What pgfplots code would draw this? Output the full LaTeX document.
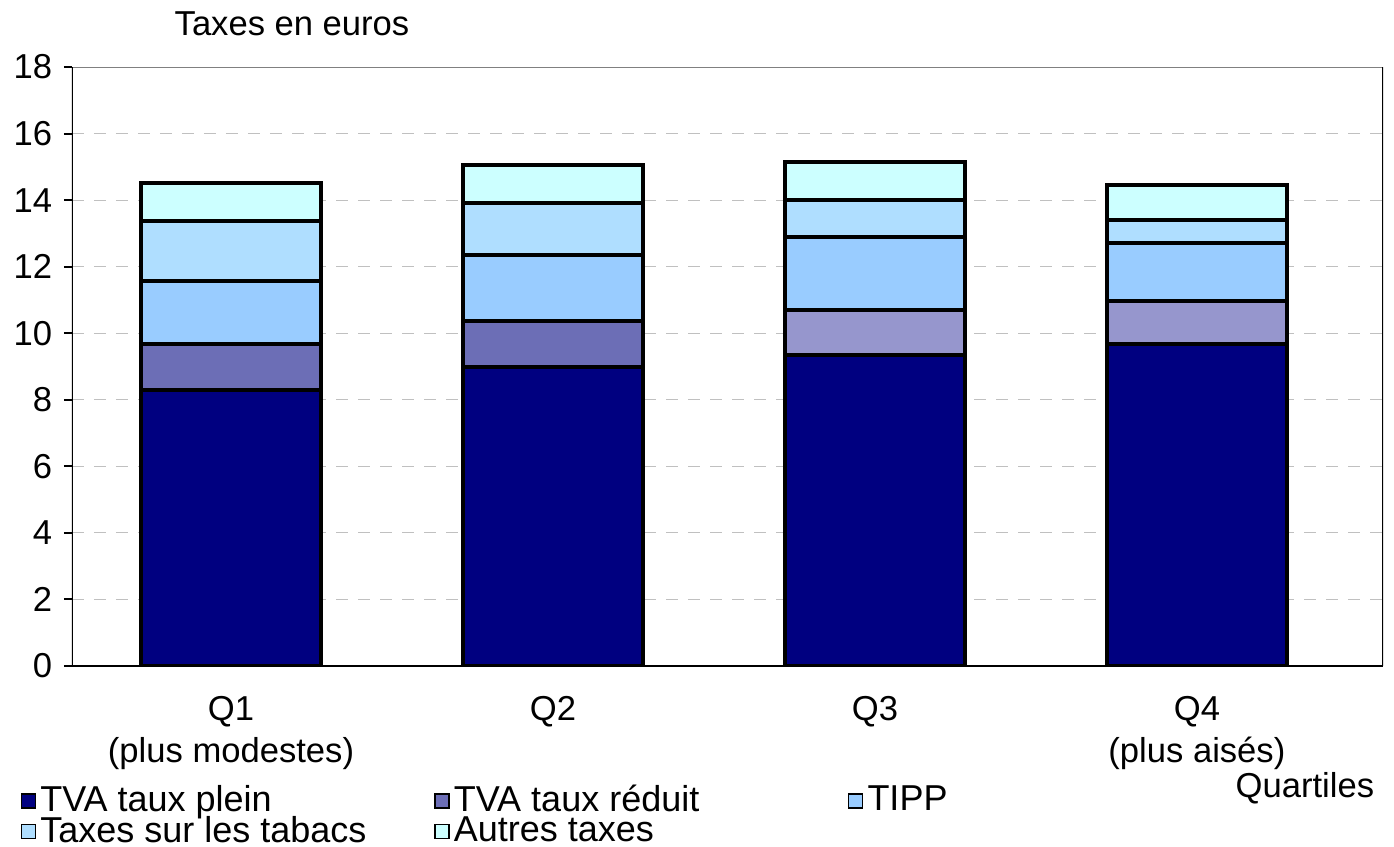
\documentclass[border=0pt]{standalone}
\usepackage{pgfplots}
\pgfplotsset{compat=1.18}
\usepackage{fontspec}
\setmainfont{Liberation Sans}
\definecolor{cplein}{RGB}{0,0,128}
\definecolor{credA}{RGB}{108,110,182}
\definecolor{credB}{RGB}{150,150,205}
\definecolor{ctipp}{RGB}{153,204,255}
\definecolor{ctab}{RGB}{175,222,255}
\definecolor{cautres}{RGB}{204,255,255}
\begin{document}
\fontsize{17.3}{20}\selectfont
\begin{tikzpicture}
\begin{axis}[
  scale only axis,
  width=655.5pt, height=299.5pt,
  xmin=-0.494, xmax=3.578,
  ymin=0, ymax=18,
  ytick={0,2,...,18},
  ytick pos=left,
  xtick={0,1,2,3},
  xticklabels={Q1\\(plus modestes), Q2, Q3, Q4\\(plus aisés)},
  xticklabel style={align=center, anchor=north, yshift=-5pt, font=\fontsize{17.3}{21}\selectfont},
  major x tick style={draw=none},
  tick align=outside,
  major tick length=4pt,
  y tick style={black, line width=1pt},
  yticklabel style={font=\fontsize{17.3}{20}\selectfont},
  /pgf/number format/assume math mode=true,
  ymajorgrids,
  grid style={dash pattern=on 6pt off 5pt, color={rgb,255:red,192;green,192;blue,192}, line width=0.5pt},
  axis line style={draw=none},
  ybar stacked,
  bar width=90pt,
  legend columns=3,
  legend style={draw=none, fill=none, at={(rel axis cs:-0.044,-0.185)}, anchor=north west,
    font=\fontsize{18}{19}\selectfont, row sep=-4.5pt, /tikz/every even column/.append style={column sep=5pt}},
  legend cell align=left,
  legend image code/.code={\draw[#1, line width=0.8pt] (0pt,-3.5pt) rectangle (7pt,3.5pt);},
]
\addplot[fill=cplein, draw=black, line width=2pt] coordinates {(0,8.29) (1,8.98) (2,9.34) (3,9.68)};
\addlegendentry{\makebox[190pt][l]{TVA taux plein}}
\addplot[fill=credA, draw=black, line width=2pt] coordinates {(0,1.39) (1,1.39) (2,0) (3,0)};
\addlegendentry{\makebox[190pt][l]{TVA taux réduit}}
\addplot[fill=credB, draw=black, line width=2pt, forget plot] coordinates {(0,0) (1,0) (2,1.36) (3,1.29)};
\addplot[fill=ctipp, draw=black, line width=2pt] coordinates {(0,1.89) (1,1.98) (2,2.19) (3,1.74)};
\addlegendentry{TIPP}
\addplot[fill=ctab, draw=black, line width=2pt] coordinates {(0,1.80) (1,1.56) (2,1.11) (3,0.69)};
\addlegendentry{\makebox[190pt][l]{Taxes sur les tabacs}}
\addplot[fill=cautres, draw=black, line width=2pt] coordinates {(0,1.14) (1,1.14) (2,1.14) (3,1.05)};
\addlegendentry{\makebox[190pt][l]{Autres taxes}}
\draw[black, line width=1pt] (rel axis cs:0,0) -- (rel axis cs:0,1);
\draw[black, line width=0.6pt] (rel axis cs:0,0) -- (rel axis cs:1,0);
\draw[black, line width=0.6pt] (rel axis cs:1,0) -- (rel axis cs:1,1);
\draw[gray, line width=1pt] (rel axis cs:0,1) -- (rel axis cs:1,1);
\end{axis}
\node at (110pt,321pt) {Taxes en euros};
\node[anchor=east] at (657pt,-61pt) {Quartiles};
\pgfresetboundingbox
\path[use as bounding box] (-36pt,-90.5pt) rectangle (661pt,333pt);
\end{tikzpicture}
\end{document}
